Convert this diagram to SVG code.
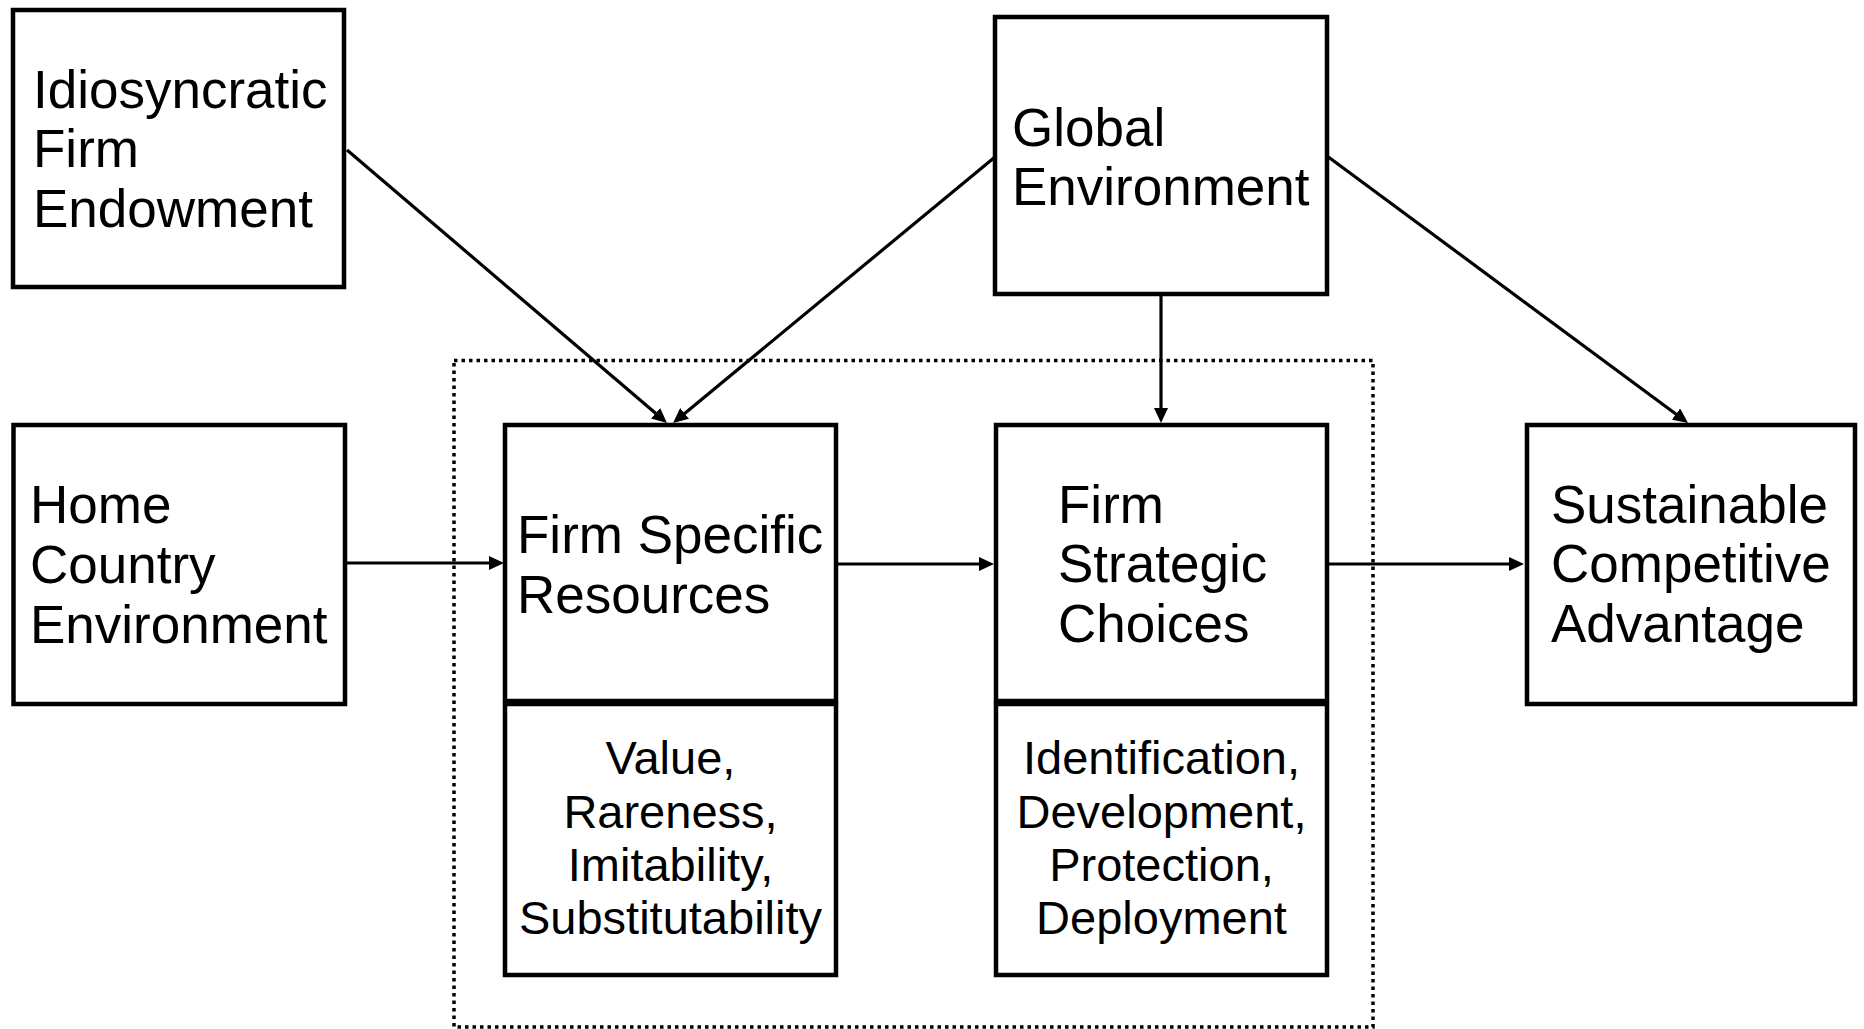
<svg xmlns="http://www.w3.org/2000/svg" width="1864" height="1029" viewBox="0 0 1864 1029">
  <style>
    .box { fill: #fff; stroke: #000; stroke-width: 4.5; }
    .frame { fill: none; stroke: #000; stroke-width: 3.5; stroke-dasharray: 3.5 4; }
    .edge { fill: none; stroke: #000; stroke-width: 3.2; }
    .title { font-family: "Liberation Sans", Arial, sans-serif; font-size: 53px; fill: #000; }
    .list { font-family: "Liberation Sans", Arial, sans-serif; font-size: 47px; fill: #000; text-anchor: middle; }
  </style>
  <defs>
    <marker id="arrow" markerUnits="userSpaceOnUse" markerWidth="16" markerHeight="14" refX="7" refY="7" orient="auto">
      <path d="M0,0 L15,7 L0,14 z" fill="#000"/>
    </marker>
  </defs>

  <!-- dotted frame around the two core boxes -->
  <rect class="frame" x="454" y="360.5" width="919" height="666.5"/>

  <g id="connectors">
    <line class="edge" x1="347" y1="150" x2="660.9" y2="417.8" marker-end="url(#arrow)"/>
    <line class="edge" x1="995" y1="157" x2="679.2" y2="417.9" marker-end="url(#arrow)"/>
    <line class="edge" x1="1161" y1="294" x2="1161" y2="415" marker-end="url(#arrow)"/>
    <line class="edge" x1="1327" y1="156" x2="1681.6" y2="418.2" marker-end="url(#arrow)"/>
    <line class="edge" x1="345" y1="563" x2="496" y2="563" marker-end="url(#arrow)"/>
    <line class="edge" x1="836" y1="564" x2="986" y2="564" marker-end="url(#arrow)"/>
    <line class="edge" x1="1327" y1="564" x2="1516" y2="564" marker-end="url(#arrow)"/>
  </g>

  <g id="idiosyncratic-firm-endowment">
    <rect class="box" x="13" y="10" width="331" height="277"/>
    <text class="title" x="33" y="108">Idiosyncratic</text>
    <text class="title" x="33" y="167">Firm</text>
    <text class="title" x="33" y="227">Endowment</text>
  </g>

  <g id="global-environment">
    <rect class="box" x="995" y="17" width="332" height="277"/>
    <text class="title" x="1012" y="146">Global</text>
    <text class="title" x="1012" y="205">Environment</text>
  </g>

  <g id="home-country-environment">
    <rect class="box" x="13.5" y="425" width="331.5" height="279"/>
    <text class="title" x="30" y="523">Home</text>
    <text class="title" x="30" y="583">Country</text>
    <text class="title" x="30" y="643">Environment</text>
  </g>

  <g id="firm-specific-resources">
    <rect class="box" x="505" y="425" width="331" height="276"/>
    <text class="title" x="517" y="553">Firm Specific</text>
    <text class="title" x="517" y="613">Resources</text>
    <rect class="box" x="505" y="704" width="331" height="271"/>
    <text class="list" x="670.5" y="774">Value,</text>
    <text class="list" x="670.5" y="828">Rareness,</text>
    <text class="list" x="670.5" y="881">Imitability,</text>
    <text class="list" x="670.5" y="934">Substitutability</text>
  </g>

  <g id="firm-strategic-choices">
    <rect class="box" x="996" y="425" width="331" height="276"/>
    <text class="title" x="1058" y="523">Firm</text>
    <text class="title" x="1058" y="582">Strategic</text>
    <text class="title" x="1058" y="642">Choices</text>
    <rect class="box" x="996" y="704" width="331" height="271"/>
    <text class="list" x="1161.5" y="774">Identification,</text>
    <text class="list" x="1161.5" y="828">Development,</text>
    <text class="list" x="1161.5" y="881">Protection,</text>
    <text class="list" x="1161.5" y="934">Deployment</text>
  </g>

  <g id="sustainable-competitive-advantage">
    <rect class="box" x="1527" y="425" width="328" height="279"/>
    <text class="title" x="1551" y="523">Sustainable</text>
    <text class="title" x="1551" y="582">Competitive</text>
    <text class="title" x="1551" y="642">Advantage</text>
  </g>
</svg>
